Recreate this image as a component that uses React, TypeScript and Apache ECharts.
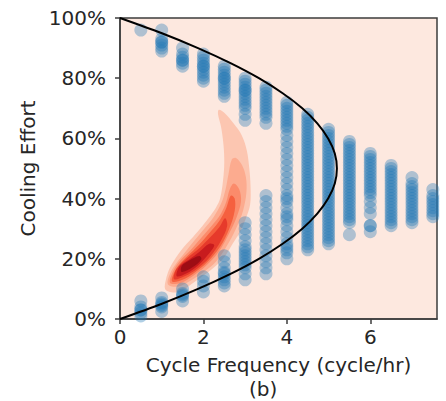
import React, { useEffect, useRef } from "react";
import * as echarts from "echarts";

// Tick labels / axes
const xTicks = [0, 2, 4, 6];
const yTicks = [0, 20, 40, 60, 80, 100];

// Scatter columns (cycle frequency) and the cooling effort values (%) read per column
const scatterX = [0.5, 1, 1.5, 2, 2.5, 3, 3.5, 4, 4.5, 5, 5.5, 6, 6.5, 7, 7.5];
const scatterY: number[][] = [
  [96, 6, 4, 3, 3, 2, 1],
  [96, 93, 92, 92, 91, 90, 89, 7, 5.5, 5, 4.5, 4, 2.5],
  [90, 88, 87, 86, 86, 85, 84, 10, 8.5, 8, 7.5, 6],
  [88, 87, 86, 85, 84, 84, 83, 82, 81, 80, 79, 14, 12.5, 11, 9],
  [84, 83, 82, 81, 80, 80, 79, 78, 77, 76, 75, 74, 21, 19, 17, 15.5, 15, 14, 13, 12, 11],
  [80, 79, 78, 77, 76, 76, 75, 74, 73, 72, 71, 70, 68, 66, 32, 30, 28, 26, 24, 23, 22, 21, 20, 19, 18, 17, 15, 13],
  [77, 76, 75, 74, 73, 72, 71, 70, 69, 68, 67, 65, 41, 39, 37, 35, 33, 31, 29, 27, 25, 23, 21, 19, 17, 15],
  [72, 71, 70, 69, 68, 67, 66, 65, 64, 63, 61, 59, 57, 55, 53, 51, 49, 47, 45, 43, 41, 40, 39, 37, 35, 34, 33, 31, 29, 27, 25, 24, 23, 22, 20],
  [68, 67, 66, 65, 64, 63, 62, 61, 60, 59, 58, 57, 56, 55, 54, 53, 52, 51, 50, 49, 48, 47, 46, 45, 44, 43, 42, 41, 40, 39, 38, 37, 36, 35, 34, 33, 32, 31, 30, 29, 28, 27, 26, 25, 24, 23],
  [63, 62, 61, 60, 59, 58, 57, 56, 55, 54, 53, 52, 51, 50, 49, 48, 47, 46, 45, 44, 43, 42, 41, 40, 39, 38, 37, 36, 35, 34, 33, 32, 31, 30, 29, 28, 27, 26, 25],
  [59, 58, 57, 56, 55, 54, 53, 52, 51, 50, 49, 48, 47, 46, 45, 44, 43, 42, 41, 40, 39, 38, 37, 36, 35, 34, 33, 32, 28],
  [55, 54, 53, 52, 51, 50, 49, 48, 47, 46, 45, 44, 43, 42, 41, 39, 37, 35, 31, 31, 29],
  [51, 50, 49, 48, 47, 46, 45, 44, 43, 42, 41, 40, 39, 38, 37, 36, 35, 34, 33, 32, 31],
  [47, 45, 44, 43, 42, 41, 40, 39, 38, 37, 36, 35, 34, 33, 32],
  [43, 41, 40, 39, 38, 37, 36, 35, 34],
];

// Theoretical boundary curve: [cycle frequency, cooling effort %]
const curvePoints: number[][] = [
  [0, 0], [0.99, 5], [1.87, 10], [2.65, 15], [3.33, 20], [3.9, 25], [4.37, 30], [4.73, 35],
  [4.99, 40], [5.15, 45], [5.2, 50], [5.15, 55], [4.99, 60], [4.73, 65], [4.37, 70],
  [3.9, 75], [3.33, 80], [2.65, 85], [1.87, 90], [0.99, 95], [0, 100],
];

// Density contour levels (outer -> inner): [cycle frequency, cooling effort %]
const kdeLevel1: number[][] = [
  [1.08, 10], [1.2, 9], [1.44, 9], [1.7, 11.5], [1.92, 13.6], [2.2, 16.5], [2.47, 20], [2.7, 25],
  [2.88, 29], [3.02, 33.5], [3.12, 38], [3.13, 44], [3.1, 50], [3.04, 56], [2.92, 61], [2.72, 65],
  [2.5, 68.5], [2.37, 69.5], [2.35, 68], [2.42, 64], [2.48, 58], [2.5, 52], [2.47, 46], [2.4, 40],
  [2.3, 37], [2.12, 33.5], [1.92, 30], [1.7, 26.5], [1.51, 23.6], [1.3, 19.5], [1.18, 16.5], [1.1, 13],
];
const kdeLevel2: number[][] = [
  [1.15, 11.5], [1.4, 10.8], [1.7, 12.8], [2.0, 15.5], [2.3, 19], [2.55, 24], [2.78, 30], [2.95, 36],
  [3.03, 42], [3.02, 47], [2.93, 51], [2.78, 53.5], [2.68, 53], [2.6, 48], [2.53, 43], [2.43, 38.5],
  [2.25, 34], [2.02, 30], [1.78, 26], [1.55, 22], [1.35, 18.5], [1.2, 15],
];
const kdeLevel3: number[][] = [
  [1.2, 12], [1.45, 12], [1.75, 14.3], [2.05, 17.5], [2.35, 22], [2.6, 28], [2.8, 34], [2.9, 39],
  [2.86, 43], [2.73, 45], [2.63, 43], [2.55, 39], [2.42, 35], [2.2, 31], [1.95, 27], [1.7, 23],
  [1.45, 19.5], [1.28, 16],
];
const kdeLevel4: number[][] = [
  [1.25, 12.5], [1.5, 13], [1.8, 15.5], [2.1, 19], [2.4, 24], [2.62, 30], [2.75, 36], [2.75, 40],
  [2.66, 41], [2.55, 37], [2.4, 33], [2.2, 29.5], [1.95, 25.5], [1.7, 22], [1.48, 19], [1.32, 16],
];
const kdeLevel5: number[][] = [
  [1.3, 13.2], [1.55, 14.2], [1.85, 16.7], [2.15, 20.5], [2.42, 26], [2.57, 31], [2.52, 33.5], [2.38, 30.5],
  [2.15, 27], [1.9, 23.5], [1.65, 20.7], [1.45, 18.2], [1.33, 16],
];
const kdeLevel6: number[][] = [
  [1.36, 14.2], [1.6, 15.2], [1.87, 17.8], [2.12, 21.5], [2.26, 24.5], [2.14, 25], [1.9, 22.3],
  [1.65, 19.7], [1.43, 17.5],
];
const kdeLevel7: number[][] = [
  [1.48, 15.6], [1.72, 17], [1.95, 19.8], [1.9, 20.9], [1.66, 19.4], [1.48, 17.6],
];
const kdeLevels = [kdeLevel1, kdeLevel2, kdeLevel3, kdeLevel4, kdeLevel5, kdeLevel6, kdeLevel7];
const kdeColors = ["#fcc6b1", "#fcab8f", "#fb8b6b", "#f5603f", "#e63a2b", "#c81b1e", "#9e0d14"];

const FONT = "DejaVu Sans";
const TEXT = "#262626";
const SPINE = "#3c3c3c";

export default function App() {
  const ref = useRef<HTMLDivElement>(null);
  useEffect(() => {
    if (!ref.current) return;
    const chart = echarts.init(ref.current, undefined, { renderer: "svg" });
    const scatterData: number[][] = [];
    scatterX.forEach((x, i) => scatterY[i].forEach((y) => scatterData.push([x, y])));
    chart.setOption({
      animation: false,
      grid: {
        left: 120, right: 9, top: 18, bottom: 82,
        show: true, backgroundColor: "#fde8df", borderColor: SPINE, borderWidth: 1.5,
      },
      xAxis: {
        type: "value", min: 0, max: 7.6, interval: 2,
        axisLine: { show: true, lineStyle: { color: SPINE, width: 1.5 } },
        axisTick: { show: true, length: 5, lineStyle: { color: SPINE, width: 1.5 }, customValues: xTicks },
        axisLabel: { color: TEXT, fontSize: 20, fontFamily: FONT, margin: 8, customValues: xTicks },
        splitLine: { show: false },
        name: "Cycle Frequency (cycle/hr)", nameLocation: "middle", nameGap: 36,
        nameTextStyle: { color: TEXT, fontSize: 20, fontFamily: FONT, lineHeight: 20 },
      },
      yAxis: {
        type: "value", min: 0, max: 100, interval: 20,
        axisLine: { show: true, lineStyle: { color: SPINE, width: 1.5 } },
        axisTick: { show: true, length: 5, lineStyle: { color: SPINE, width: 1.5 }, customValues: yTicks },
        axisLabel: { color: TEXT, fontSize: 20, fontFamily: FONT, margin: 14, formatter: "{value}%", customValues: yTicks },
        splitLine: { show: false },
        name: "Cooling Effort", nameLocation: "middle", nameGap: 80,
        nameTextStyle: { color: TEXT, fontSize: 20, fontFamily: FONT },
      },
      graphic: [
        { type: "text", left: 249, top: 379, style: { text: "(b)", fill: TEXT, font: `20px "${FONT}"`, lineHeight: 20 } },
      ],
      series: [
        {
          type: "custom",
          data: kdeLevels.map((_, i) => [i, 0]),
          z: 1,
          clip: true,
          renderItem: (params: any, api: any) => {
            const idx = params.dataIndex;
            const pts = kdeLevels[idx].map((p) => api.coord([p[0], p[1]]));
            return {
              type: "polygon",
              shape: { points: pts, smooth: 0.35 },
              style: { fill: kdeColors[idx] },
            };
          },
        },
        {
          type: "scatter",
          data: scatterData,
          symbolSize: 13,
          z: 2,
          itemStyle: { color: "rgba(31,119,180,0.44)" },
        },
        {
          type: "line",
          data: curvePoints,
          smooth: 0.3,
          showSymbol: false,
          z: 3,
          lineStyle: { color: "#000", width: 2 },
        },
      ],
    });
    return () => chart.dispose();
  }, []);
  return <div ref={ref} style={{ width: 446, height: 401, position: "absolute", left: 0, top: 0 }} />;
}
